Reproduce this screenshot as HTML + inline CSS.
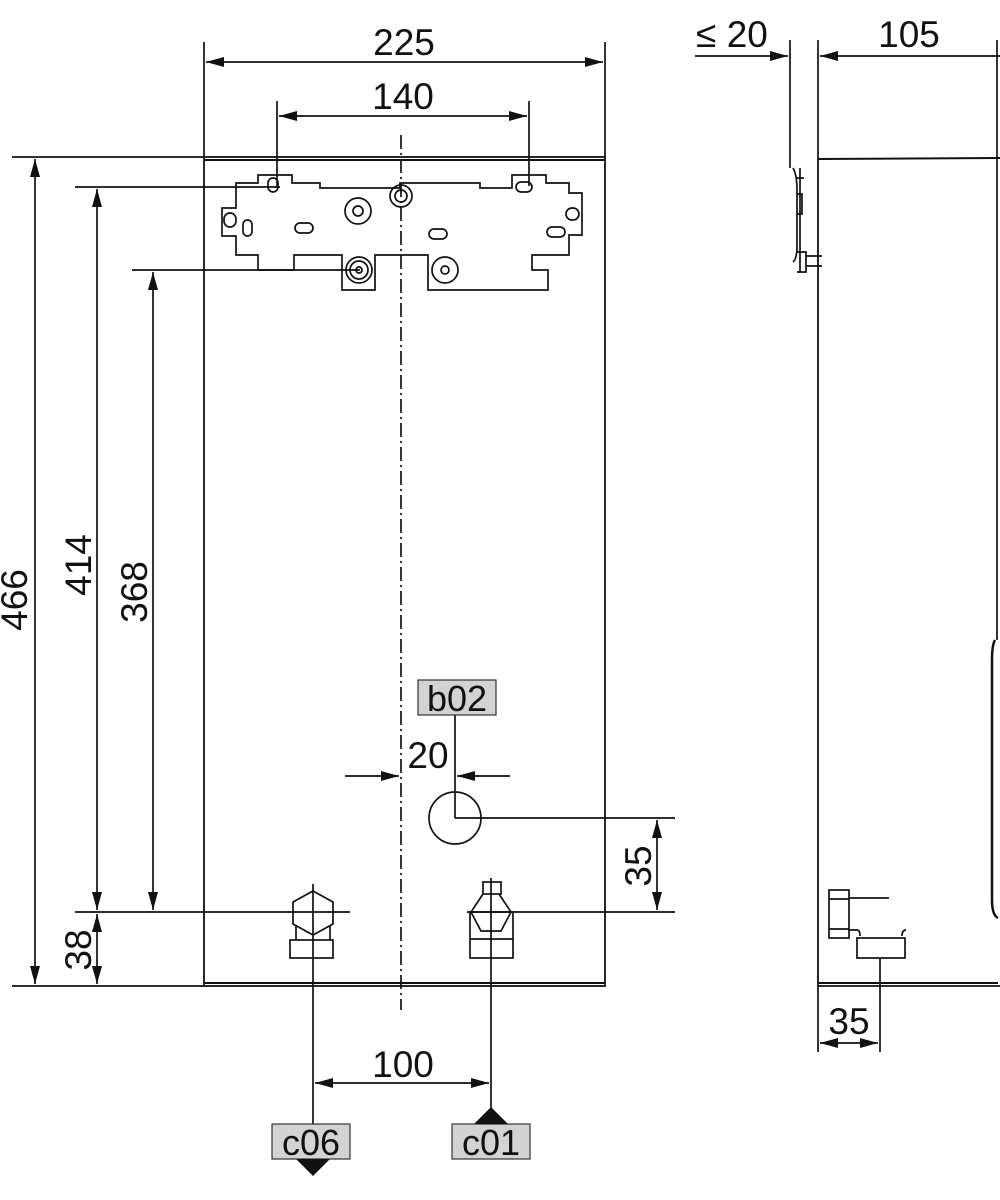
<!DOCTYPE html>
<html><head><meta charset="utf-8"><style>html,body{margin:0;padding:0;background:#fff}svg{display:block}</style></head>
<body>
<svg width="1000" height="1200" viewBox="0 0 1000 1200" xmlns="http://www.w3.org/2000/svg" font-family="Liberation Sans, sans-serif">
<defs>
<marker id="a" viewBox="0 0 18 10" refX="18" refY="5" markerWidth="18" markerHeight="10" markerUnits="userSpaceOnUse" orient="auto-start-reverse"><path d="M0,0L18,5L0,10z" fill="#111"/></marker>
</defs>
<g stroke="#111" stroke-width="1.7" fill="none">
<rect x="204" y="157" width="401" height="829" stroke-width="1.8"/>
<line x1="204" y1="160" x2="605" y2="160" stroke-width="2"/>
<line x1="204" y1="983" x2="605" y2="983" stroke-width="2"/>
<line x1="401" y1="135" x2="401" y2="1010" stroke-dasharray="14,4,2,4"/>
<line x1="204" y1="42" x2="204" y2="157"/><line x1="605" y1="42" x2="605" y2="157"/>
<line x1="206" y1="62" x2="603" y2="62" marker-start="url(#a)" marker-end="url(#a)"/>
<line x1="277" y1="101" x2="277" y2="186"/><line x1="529" y1="101" x2="529" y2="186"/>
<line x1="279" y1="116" x2="527" y2="116" marker-start="url(#a)" marker-end="url(#a)"/>
<line x1="12" y1="157" x2="204" y2="157"/><line x1="12" y1="986" x2="204" y2="986"/>
<line x1="35" y1="159" x2="35" y2="984" marker-start="url(#a)" marker-end="url(#a)"/>
<line x1="75" y1="187" x2="280" y2="187"/>
<line x1="97" y1="189" x2="97" y2="910" marker-start="url(#a)" marker-end="url(#a)"/>
<line x1="132" y1="270" x2="360" y2="270"/>
<line x1="153" y1="272" x2="153" y2="910" marker-start="url(#a)" marker-end="url(#a)"/>
<line x1="75" y1="912" x2="350" y2="912"/>
<line x1="97" y1="914" x2="97" y2="984" marker-start="url(#a)" marker-end="url(#a)"/>
<path d="M236,183 H258 V175 H292 V183 H320 V188 H400 V183 H480 V188 H512 V175 H546 V183 H569 V193 H582 V235 H569 V255 H532 V270 H548 V290 H428 V255 H375 V290 H342 V255 H294 V270 H258 V255 H236 V236 H222 V208 H236 Z"/>
<rect x="268" y="178" width="10" height="14" rx="5"/>
<rect x="516" y="182" width="16" height="10" rx="5"/>
<rect x="243" y="220" width="9" height="16" rx="4.5"/>
<rect x="295" y="223" width="18" height="10" rx="5"/>
<rect x="429" y="229" width="18" height="10" rx="5"/>
<rect x="547" y="227" width="18" height="10" rx="5"/>
<rect x="224" y="213" width="12" height="14" rx="6"/>
<rect x="566" y="208" width="13" height="12" rx="6"/>
<circle cx="358" cy="211" r="13"/><circle cx="358" cy="211" r="5"/>
<circle cx="401" cy="196" r="11"/><circle cx="401" cy="196" r="6"/>
<circle cx="359" cy="270" r="13"/><circle cx="359" cy="270" r="9"/><circle cx="359" cy="270" r="3"/>
<circle cx="445" cy="270" r="13"/><circle cx="445" cy="270" r="4"/>
<circle cx="455" cy="818" r="26"/>
<line x1="455" y1="715" x2="455" y2="818"/>
<line x1="455" y1="818" x2="675" y2="818"/>
<line x1="345" y1="776" x2="399" y2="776" marker-end="url(#a)"/>
<line x1="510" y1="776" x2="457" y2="776" marker-end="url(#a)"/>
<line x1="467" y1="912" x2="675" y2="912"/>
<line x1="657" y1="820" x2="657" y2="910" marker-start="url(#a)" marker-end="url(#a)"/>
<path d="M313,891 L333,902 V924 L313,935 L293,924 V902 Z"/>
<line x1="296" y1="925" x2="296" y2="940"/><line x1="330" y1="925" x2="330" y2="940"/>
<rect x="290" y="940" width="43" height="18"/>
<line x1="313" y1="884" x2="313" y2="1124"/>
<rect x="483" y="882" width="18" height="12"/>
<path d="M483,894 L471,912 L481,931 H501 L511,912 L499,894"/>
<rect x="470" y="912" width="43" height="46"/><line x1="470" y1="939" x2="513" y2="939"/>
<line x1="491" y1="878" x2="491" y2="1110"/>
<line x1="315" y1="1083" x2="489" y2="1083" marker-start="url(#a)" marker-end="url(#a)"/>
<path d="M818,157 V986 H1000" stroke-width="1.8"/>
<line x1="818" y1="159" x2="1000" y2="158" stroke-width="2"/>
<line x1="818" y1="983" x2="998" y2="983" stroke-width="2"/>
<line x1="997" y1="40" x2="997" y2="640"/>
<line x1="790" y1="40" x2="790" y2="168"/><line x1="818" y1="40" x2="818" y2="157"/>
<line x1="695" y1="56" x2="788" y2="56" marker-end="url(#a)"/>
<line x1="1000" y1="56" x2="820" y2="56" marker-end="url(#a)"/>
<path d="M793,168 Q797,175 797,190 V250 Q796,260 793,262 M800,168 V252"/>
<path d="M797,178 H804 M797,194 H802 V214 H797 M797,252 H806 V272 H797 M806,256 H822 M806,266 H822 M800,252 V272"/>
<path d="M995,640 Q992,645 992,660 V900 Q992,915 998,918" stroke-width="2.5"/>
<rect x="829" y="890" width="20" height="48"/><line x1="829" y1="899" x2="849" y2="899"/><line x1="829" y1="929" x2="849" y2="929"/>
<line x1="849" y1="898" x2="889" y2="898"/>
<path d="M849,930 H857 Q860,930 860,936 M902,936 Q902,930 906,930"/>
<rect x="857" y="938" width="48" height="20"/>
<line x1="880" y1="958" x2="880" y2="1052"/>
<line x1="818" y1="986" x2="818" y2="1052"/>
<line x1="820" y1="1043" x2="878" y2="1043" marker-start="url(#a)" marker-end="url(#a)"/>
</g>
<g fill="#111" font-size="37" text-anchor="middle">
<text x="404" y="55">225</text>
<text x="403" y="109">140</text>
<text x="732" y="47">≤ 20</text>
<text x="909" y="47">105</text>
<text transform="translate(27,600) rotate(-90)">466</text>
<text transform="translate(91,565) rotate(-90)">414</text>
<text transform="translate(147,592) rotate(-90)">368</text>
<text transform="translate(91,950) rotate(-90)">38</text>
<text transform="translate(651,866) rotate(-90)">35</text>
<text x="428" y="768">20</text>
<text x="403" y="1077">100</text>
<text x="849" y="1034">35</text>
</g>
<g stroke="#333" stroke-width="1.2" fill="#d3d3d3">
<rect x="418" y="680" width="78" height="35"/>
<rect x="272" y="1124" width="78" height="35"/>
<rect x="452" y="1124" width="78" height="35"/>
</g>
<path d="M296,1159 H330 L313,1176 Z" fill="#111"/>
<path d="M474,1124 H508 L491,1107 Z" fill="#111"/>
<g fill="#111" font-size="36" text-anchor="middle">
<text x="457" y="711">b02</text>
<text x="311" y="1155">c06</text>
<text x="491" y="1155">c01</text>
</g>
</svg>
</body></html>
